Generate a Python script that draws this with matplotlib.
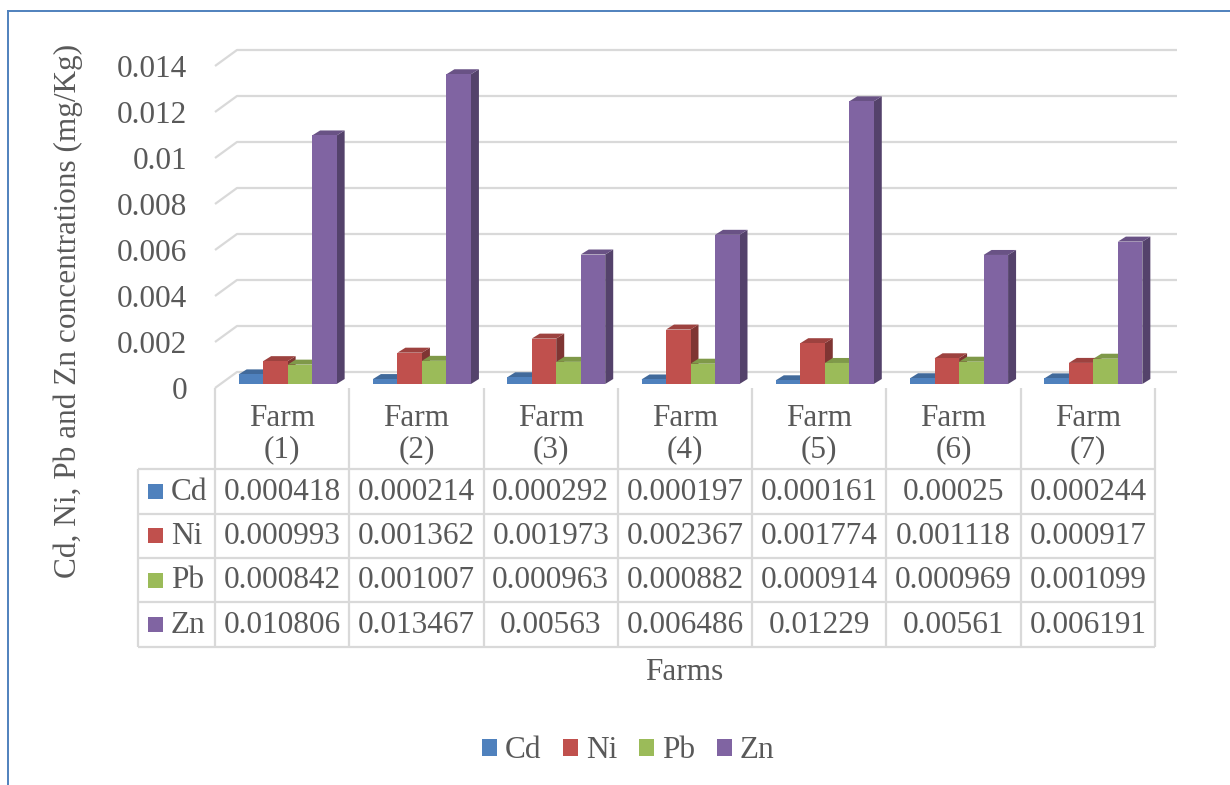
import numpy as np
import matplotlib
matplotlib.use("Agg")
import matplotlib.pyplot as plt
from matplotlib.patches import Polygon, Rectangle, Patch
from matplotlib.lines import Line2D
from matplotlib.colors import to_rgb

# ---------------- data ----------------
farms = ["Farm\n(1)", "Farm\n(2)", "Farm\n(3)", "Farm\n(4)", "Farm\n(5)", "Farm\n(6)", "Farm\n(7)"]
series_names = ["Cd", "Ni", "Pb", "Zn"]
cd = [0.000418, 0.000214, 0.000292, 0.000197, 0.000161, 0.00025, 0.000244]
ni = [0.000993, 0.001362, 0.001973, 0.002367, 0.001774, 0.001118, 0.000917]
pb = [0.000842, 0.001007, 0.000963, 0.000882, 0.000914, 0.000969, 0.001099]
zn = [0.010806, 0.013467, 0.00563, 0.006486, 0.01229, 0.00561, 0.006191]
yticks = [0, 0.002, 0.004, 0.006, 0.008, 0.01, 0.012, 0.014]
colors = ["#4F81BD", "#C0504D", "#9BBB59", "#8064A2"]
y_title = "Cd, Ni, Pb and Zn concentrations (mg/Kg)"
x_title = "Farms"

values = [cd, ni, pb, zn]

# ---------------- figure ----------------
W, H, DPI = 1230, 785, 100
plt.rcParams["font.family"] = ["Liberation Serif", "DejaVu Serif"]
TXT = "#595959"
GRID = "#d9d9d9"
FS = 22.5

fig = plt.figure(figsize=(W / DPI, H / DPI), dpi=DPI)

def fx(px):
    return px / W

def fy(py):
    return 1 - py / H

# front plane of the floor: x 215..1155, y 388 (0) .. 66 (0.014)
X0, X1, Y0, Y1 = 215, 1155, 388, 66
n = len(farms)
ymax = yticks[-1]
ax = fig.add_axes([fx(X0), fy(Y0), (X1 - X0) / W, (Y0 - Y1) / H])
ax.set_xlim(0, n)
ax.set_ylim(0, ymax)
for s in ax.spines.values():
    s.set_visible(False)
ax.set_facecolor("none")
ax.set_xticks([])
ax.set_yticks(yticks)
ax.set_yticklabels([f"{v:g}" for v in yticks])
ax.tick_params(axis="y", length=0, pad=20, labelsize=FS, labelcolor=TXT)

DX = n / (X1 - X0)          # data units per pixel (x)
DY = ymax / (Y0 - Y1)       # data units per pixel (y)

# back wall gridlines + left diagonals
wdx, wdy = 22 * DX, 16 * DY
for v in yticks:
    ax.plot([0, wdx, n + wdx], [v, v + wdy, v + wdy], color=GRID, lw=1.6,
            clip_on=False, zorder=1, solid_capstyle="butt")

# bars (pseudo 3D)
bpx, bpy = 5.5 * DX, 4 * DY         # bar plane offset
bw = 24.5 * DX
ddx, ddy = 8 * DX, 5 * DY           # bar depth

def shade(c, f):
    r, g, b = to_rgb(c)
    return (r * f, g * f, b * f)

z = 3
for i in range(n):
    center = i + 0.5 + bpx
    left0 = center - 2 * bw
    for k, vals in enumerate(values):
        h = vals[i]
        xl = left0 + k * bw
        xr = xl + bw
        yb = bpy
        yt = bpy + h
        side = Polygon([(xr, yb), (xr, yt), (xr + ddx, yt + ddy), (xr + ddx, yb + ddy)],
                       closed=True, facecolor=shade(colors[k], 0.66), edgecolor="none",
                       clip_on=False, zorder=z)
        top = Polygon([(xl, yt), (xr, yt), (xr + ddx, yt + ddy), (xl + ddx, yt + ddy)],
                      closed=True, facecolor=shade(colors[k], 0.82), edgecolor="none",
                      clip_on=False, zorder=z)
        ax.add_patch(side)
        ax.add_patch(top)
        ax.bar(xl, h, width=bw, bottom=yb, align="edge", color=colors[k],
               edgecolor="none", clip_on=False, zorder=z + 0.5)
        z += 1

# ---------------- data table ----------------
TL = 138
col_w = (X1 - X0) / n
row_tops = [469, 513.5, 558, 602, 647]
line_kw = dict(color=GRID, lw=1.6, transform=fig.transFigure, solid_capstyle="butt")

for j in range(n + 1):
    xx = X0 + j * col_w
    fig.add_artist(Line2D([fx(xx), fx(xx)], [fy(388), fy(row_tops[-1])], **line_kw))
fig.add_artist(Line2D([fx(TL), fx(TL)], [fy(row_tops[0]), fy(row_tops[-1])], **line_kw))
for yy in row_tops:
    fig.add_artist(Line2D([fx(TL), fx(X1)], [fy(yy), fy(yy)], **line_kw))

for j, lab in enumerate(farms):
    cx = X0 + (j + 0.5) * col_w
    fig.text(fx(cx), fy(434), lab, ha="center", va="center", fontsize=FS,
             color=TXT, linespacing=1.12)

for r, (name, vals) in enumerate(zip(series_names, values)):
    cy = (row_tops[r] + row_tops[r + 1]) / 2
    fig.add_artist(Rectangle((fx(148), fy(cy + 7.5)), 15 / W, 15 / H,
                             transform=fig.transFigure, facecolor=colors[r],
                             edgecolor="none"))
    fig.text(fx(171), fy(cy + 1), name, ha="left", va="center", fontsize=FS, color=TXT)
    for j, v in enumerate(vals):
        cx = X0 + (j + 0.5) * col_w
        fig.text(fx(cx), fy(cy + 1), f"{v}", ha="center", va="center",
                 fontsize=FS, color=TXT)

# ---------------- titles ----------------
fig.text(fx(68), fy(311), y_title, rotation=90, ha="center", va="center",
         fontsize=FS, color=TXT)
fig.text(fx(684), fy(672), x_title, ha="center", va="center", fontsize=FS, color=TXT)

handles = [Patch(facecolor=c, edgecolor="none", label=s) for s, c in zip(series_names, colors)]
fig.legend(handles=handles, loc="center", bbox_to_anchor=(fx(628), fy(751)), ncol=4,
           frameon=False, fontsize=FS, labelcolor=TXT, handlelength=0.48,
           handleheight=0.48, handletextpad=0.25, columnspacing=0.7, borderpad=0)

# outer frame (left & top edges)
frame_kw = dict(color="#4F81BD", lw=1.4, transform=fig.transFigure)
fig.add_artist(Line2D([fx(8), fx(8)], [fy(11), 0], **frame_kw))
fig.add_artist(Line2D([fx(8), 1], [fy(11), fy(11)], **frame_kw))

fig.savefig("out.png", dpi=DPI)
